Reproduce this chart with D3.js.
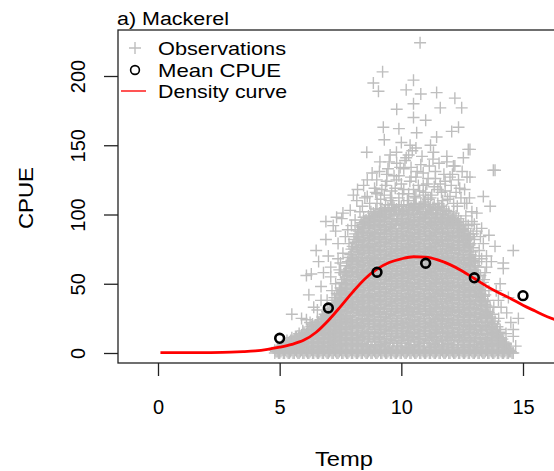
<!DOCTYPE html>
<html>
<head>
<meta charset="utf-8">
<script src="https://cdn.jsdelivr.net/npm/d3@7"></script>
<style>
  body { margin: 0; background: #fff; }
  svg { display: block; }
  text { font-family: "Liberation Sans", Arial, Helvetica, sans-serif; fill: #000; }
</style>
</head>
<body>
<div id="chart"></div>
<script>
// ---- data ----
const xTicks = [0, 5, 10, 15];
const yTicks = [0, 50, 100, 150, 200];

// mean CPUE per temperature class
const meanTemp = [5, 7, 9, 11, 13, 15];
const meanCpue = [10.6, 32.5, 58.3, 64.8, 54.3, 41.4];

// fitted density curve
const curveTemp = [0.1, 1, 2, 3, 3.5, 4, 4.5, 5, 5.5, 6, 6.5, 7, 7.5, 8, 8.5, 9, 9.5, 10, 10.5, 11, 11.5, 12, 12.5, 13, 13.5, 14, 14.5, 15, 15.5, 16, 16.5];
const curveCpue = [0.2, 0.2, 0.3, 0.6, 1.0, 1.6, 2.7, 4.2, 6.2, 9.3, 15, 23.5, 33.5, 44, 53.5, 60.5, 65.3, 68, 69.5, 69.2, 67.2, 63.8, 59.2, 53.8, 48.3, 43.5, 39.2, 34.5, 30.3, 26.2, 22.8];

// observations in the dense core, grouped by temperature: [temp, [cpue...]]
const obsColumns = [
  [4.8,[0,2]],[4.9,[1,4]],[5.0,[0,3]],[5.1,[2,5]],[5.2,[0,4,7]],[5.3,[1,6,9]],[5.4,[0,4,8]],
  [5.5,[2,7,11]],[5.6,[0,5,10]],[5.7,[1,6,12]],[5.8,[0,4,9,14]],[5.9,[2,7,13]],
  [6.0,[0,5,10,15]],[6.1,[1,8,14]],[6.2,[0,4,10,17]],[6.3,[2,7,13,19]],[6.4,[0,5,11,17]],
  [6.5,[1,8,14,20]],[6.6,[0,4,10,16,22]],[6.7,[2,7,13,19,24]],[6.8,[0,5,11,18,25]],[6.9,[1,8,14,20,27]],
  [7.0,[0,4,10,17,23,29]],[7.1,[2,8,14,21,27,32]],[7.2,[0,6,12,19,26,34]],[7.3,[1,9,16,24,31,38]],
  [7.4,[0,5,13,21,28,35,42]],[7.5,[2,10,18,26,33,40,47]],[7.6,[0,7,15,23,31,39,46,53]],
  [7.7,[1,9,17,25,34,42,50,59]],[7.8,[0,6,14,22,30,38,47,56,66]],[7.9,[2,10,19,27,36,44,53,62,71]],
  [8.0,[0,7,15,24,33,41,50,59,68,77]],[8.1,[1,9,18,27,35,44,53,62,71,80,86]],
  [8.2,[0,5,13,22,31,39,48,57,66,75,84,89]],[8.3,[2,11,20,29,37,46,55,64,73,82,91]],
  [8.4,[0,7,16,25,33,42,51,60,69,78,87,93]],[8.5,[1,10,19,28,36,45,54,63,72,81,90,95]],
  [8.6,[0,5,14,23,31,40,49,58,67,76,85,94]],[8.7,[2,12,21,30,38,47,56,65,74,83,92,97]],
  [8.8,[0,8,17,26,34,43,52,61,70,79,88,98]],[8.9,[1,10,19,28,37,46,55,64,73,82,91,99]],
  [9.0,[0,6,15,24,32,41,50,59,68,77,86,95,100]],[9.1,[2,11,20,29,38,47,56,65,74,83,92,101]],
  [9.2,[0,8,17,26,35,44,53,62,71,80,89,98,102]],[9.3,[1,5,14,23,32,41,50,59,68,77,86,95,103]],
  [9.4,[0,10,19,28,37,46,55,64,73,82,91,100]],[9.5,[2,7,16,25,34,43,52,61,70,79,88,97,104]],
  [9.6,[0,12,21,30,39,48,57,66,75,84,93,102]],[9.7,[1,9,18,27,36,45,54,63,72,81,90,99,105]],
  [9.8,[0,5,14,23,32,41,50,59,68,77,86,95,104]],[9.9,[2,11,20,29,38,47,56,65,74,83,92,101,106]],
  [10.0,[0,7,16,25,34,43,52,61,70,79,88,97,106]],[10.1,[1,12,21,30,39,48,57,66,75,84,93,102,107]],
  [10.2,[0,4,13,22,31,40,49,58,67,76,85,94,103]],[10.3,[2,9,18,27,36,45,54,63,72,81,90,99,107]],
  [10.4,[0,6,15,24,33,42,51,60,69,78,87,96,105]],[10.5,[1,11,20,29,38,47,56,65,74,83,92,101,108]],
  [10.6,[0,8,17,26,35,44,53,62,71,80,89,98,107]],[10.7,[2,5,14,23,32,41,50,59,68,77,86,95,104]],
  [10.8,[0,10,19,28,37,46,55,64,73,82,91,100,108]],[10.9,[1,7,16,25,34,43,52,61,70,79,88,97,106]],
  [11.0,[0,12,21,30,39,48,57,66,75,84,93,102,107]],[11.1,[2,9,18,27,36,45,54,63,72,81,90,99,106]],
  [11.2,[0,4,13,22,31,40,49,58,67,76,85,94,103]],[11.3,[1,11,20,29,38,47,56,65,74,83,92,101,105]],
  [11.4,[0,6,15,24,33,42,51,60,69,78,87,96,104]],[11.5,[2,8,17,26,35,44,53,62,71,80,89,98,103]],
  [11.6,[0,12,21,30,39,48,57,66,75,84,93,101]],[11.7,[1,5,14,23,32,41,50,59,68,77,86,95,100]],
  [11.8,[0,10,19,28,37,46,55,64,73,82,91,99]],[11.9,[2,7,16,25,34,43,52,61,70,79,88,97]],
  [12.0,[0,11,20,29,38,47,56,65,74,83,92,98]],[12.1,[1,4,13,22,31,40,49,58,67,76,85,94,97]],
  [12.2,[0,9,18,27,36,45,54,63,72,81,90,96]],[12.3,[2,6,15,24,33,42,51,60,69,78,87,94]],
  [12.4,[0,11,20,29,38,47,56,65,74,83,92]],[12.5,[1,8,17,26,35,44,53,62,71,80,89]],
  [12.6,[0,4,13,22,31,40,49,58,67,76,85,88]],[12.7,[2,10,19,28,37,46,55,64,73,82,86]],
  [12.8,[0,6,15,24,33,42,51,60,69,78,83]],[12.9,[1,11,20,29,38,47,56,65,73]],
  [13.0,[0,8,17,26,35,44,53,60,66]],[13.1,[2,5,14,23,32,41,50,58]],[13.2,[0,10,19,28,37,46,53]],
  [13.3,[1,7,16,25,34,42,47]],[13.4,[0,11,20,29,37,41]],[13.5,[2,8,17,26,34]],[13.6,[0,5,14,22,29]],
  [13.7,[1,10,18,25]],[13.8,[0,7,15,21]],[13.9,[2,11,17]],[14.0,[0,6,13]],[14.1,[1,9,11]],
  [14.2,[0,4,8]],[14.3,[2,6]],[14.4,[0,3]],[14.5,[1]],[14.6,[0]]
];

// more core observations, between the columns above
const obsColumnsB = [
  [4.85,[1]],[4.95,[0,3]],[5.05,[1,4]],[5.15,[0,3,6]],[5.25,[2,5]],[5.35,[0,3,7]],[5.45,[1,6,9]],
  [5.55,[0,4,9]],[5.65,[2,7,12]],[5.75,[0,4,10]],[5.85,[1,6,11]],[5.95,[0,4,10,16]],[6.05,[2,8,13]],
  [6.15,[0,5,11,17]],[6.25,[1,7,14]],[6.35,[0,4,10,16,21]],[6.45,[2,8,14,20]],[6.55,[0,5,11,17,23]],
  [6.65,[1,7,13,19]],[6.75,[0,4,10,16,22,26]],[6.85,[2,8,15,21,28]],[6.95,[0,5,11,17,24,30]],
  [7.05,[1,7,13,20,26,31]],[7.15,[0,5,11,17,24,30,36]],[7.25,[2,8,15,22,29,36,40]],
  [7.35,[0,5,12,20,27,35,43]],[7.45,[1,9,17,24,31,38,45]],[7.55,[0,6,14,22,30,37,44,51]],
  [7.65,[2,11,19,27,35,43,50,57]],[7.75,[0,5,13,21,29,38,46,55,63]],[7.85,[1,10,18,26,34,43,52,61,69]],
  [7.95,[0,6,14,23,32,40,49,58,67,75]],[8.05,[2,11,20,29,37,46,55,64,73,82]],
  [8.15,[0,5,13,22,31,40,49,58,67,76,84]],[8.25,[1,9,18,27,35,44,53,62,71,80,88]],
  [8.35,[0,6,15,24,33,42,51,60,69,78,87,94]],[8.45,[2,12,21,30,38,47,56,65,74,83,91,98]],
  [8.55,[0,5,14,23,32,41,50,59,68,77,86,96]],[8.65,[1,10,19,27,36,45,54,63,72,81,90,99]],
  [8.75,[0,6,15,24,33,42,51,60,69,78,87,95,102]],[8.85,[2,12,21,30,39,48,57,66,75,84,93,101]],
  [8.95,[0,5,14,23,32,41,50,59,68,77,86,96,104]],[9.05,[1,10,19,28,37,46,55,64,73,82,91,99]],
  [9.15,[0,6,15,24,33,42,51,60,69,78,87,96,104]],[9.25,[2,12,21,30,39,48,57,66,75,84,93,100]],
  [9.35,[0,7,17,26,35,44,53,62,71,80,89,98,107]],[9.45,[1,5,14,23,32,41,50,59,68,77,86,95,105]],
  [9.55,[0,10,19,28,37,46,55,64,73,82,91,100]],[9.65,[2,7,16,25,34,43,52,61,70,79,88,97,107]],
  [9.75,[0,12,21,30,39,48,57,66,75,84,93,103]],[9.85,[1,5,14,23,32,41,50,59,68,77,86,96]],
  [9.95,[0,9,18,27,36,45,54,63,72,81,90,100]],[10.05,[2,12,21,30,39,48,57,66,75,84,93,101]],
  [10.15,[0,7,16,25,34,43,52,61,70,79,88,97]],[10.25,[1,10,19,28,37,46,55,64,73,82,91,100]],
  [10.35,[0,5,14,23,32,41,50,59,68,77,86,95,104]],[10.45,[2,12,21,30,39,48,57,66,75,84,93,103]],
  [10.55,[0,6,15,24,33,42,51,60,69,78,87,96,106]],[10.65,[1,10,19,28,37,46,55,64,73,82,91,101]],
  [10.75,[0,5,14,23,32,41,50,59,68,77,86,96,105]],[10.85,[2,12,21,30,39,48,57,66,75,84,93,102]],
  [10.95,[0,7,16,25,34,43,52,61,70,79,88,98]],[11.05,[1,10,19,28,37,46,55,64,73,82,91,100]],
  [11.15,[0,5,14,23,32,41,50,59,68,77,86,95,104]],[11.25,[2,12,21,30,39,48,57,66,75,84,93,101]],
  [11.35,[0,7,16,25,34,43,52,61,70,79,88,97,107]],[11.45,[1,10,19,28,37,46,55,64,73,82,91,100]],
  [11.55,[0,5,14,23,32,41,50,59,68,77,86,94,105]],[11.65,[2,9,18,27,36,45,54,63,72,81,90,97,106]],
  [11.75,[0,6,15,24,33,42,51,60,69,78,87,96,104]],[11.85,[1,12,21,30,39,48,57,66,75,84,93,103]],
  [11.95,[0,5,14,23,32,41,50,59,68,77,86,95,102]],[12.05,[2,9,18,27,36,45,54,63,72,81,90,96]],
  [12.15,[0,6,15,24,33,42,51,60,69,78,87,93,101]],[12.25,[1,12,21,30,39,48,57,66,75,84,92,99]],
  [12.35,[0,4,13,22,31,40,49,58,67,76,84,90,97]],[12.45,[2,9,17,26,35,44,53,62,71,80,88,95]],
  [12.55,[0,6,15,24,33,42,51,60,69,78,86,93]],[12.65,[1,11,20,29,38,47,56,65,74,81,90]],
  [12.75,[0,5,14,23,32,41,50,59,68,77,84,92]],[12.85,[2,9,18,27,36,45,54,63,71,79,86]],
  [12.95,[0,6,15,24,33,42,51,59,67,76]],[13.05,[1,11,20,29,38,46,55,63,70]],
  [13.15,[0,4,13,22,31,40,48,56,62]],[13.25,[2,8,17,26,35,43,50,56]],[13.35,[0,6,14,22,31,39,45,51]],
  [13.45,[1,10,19,27,35,42]],[13.55,[0,5,13,22,30,38]],[13.65,[2,9,17,26,33]],[13.75,[0,6,14,21,28]],
  [13.85,[1,9,16,23]],[13.95,[0,5,12,19]],[14.05,[2,8,15]],[14.15,[0,5,10]],[14.25,[1,4,7]],
  [14.35,[0,3]],[14.45,[1,2]],[14.55,[0]]
];

// looser observations along the top and flanks of the core: [temp, cpue]
const obsFringe = [
  [8.7,108],[8.95,116],[9.15,111],[9.35,121],[9.45,133],[9.6,110],[9.75,119],[9.9,128],[10.05,115],
  [10.15,139],[10.25,110],[10.35,124],[10.45,146],[10.55,113],[10.65,131],[10.75,117],[10.85,142],
  [10.95,109],[11.05,122],[11.15,135],[11.25,114],[11.35,120],[11.5,108],[11.55,137],[11.65,116],
  [11.75,129],[11.9,111],[12.05,121],[12.15,108],[12.25,116],[12.45,112],[12.5,131],[12.65,99],
  [12.8,112],[13.0,93],[13.1,101],[13.25,84],[13.5,62],[13.3,68],[9.2,118],[9.55,112],[9.95,134],
  [10.1,118],[10.6,127],[11.1,111],[11.6,122],[12.35,125],[8.6,113],[8.3,102],[8.1,96],[7.95,92],
  [7.7,84],[7.85,79],[9.0,115],[10.3,143],[10.9,121],[11.8,117],[8.45,121],
  [7.5,58],[7.3,50],[7.15,45],[7.6,72],[7.45,60],[6.95,38],[6.55,31],[6.1,24],
  [13.2,66],[13.4,53],[13.6,45],[13.8,33],[14.0,25],[14.3,14],[12.95,86]
];

// scattered observations around the core: [temp, cpue]
const obsScattered = [
  [5.5,28],[6.3,57],[7.1,55],[6.5,74],[7.4,79],[6.7,38],[6.1,56],[7.5,65],[6.7,48],[6.9,82],[6.9,95],
  [6.6,66],[7.2,92],[7.0,70],[7.6,101],[7.3,88],[6.25,22],[5.9,25],[6.4,33],[6.2,42],[7.55,97],[7.34,98],
  [7.9,103],[8.17,110],[8.03,114],[7.8,89],[7.1,62],[6.8,58],[7.4,68],
  [8.2,118],[8.5,112],[8.6,125],[8.9,119],[9.0,108],[9.1,131],[9.3,114],[9.4,124],[9.6,117],[9.7,128],
  [9.9,112],[10.0,122],[10.1,133],[10.3,115],[10.4,127],[10.6,112],[10.7,121],[10.8,136],[11.0,116],
  [11.1,126],[11.2,112],[11.4,131],[11.5,118],[11.7,110],[11.8,124],[12.0,113],[12.1,129],[12.3,106],
  [12.4,119],[12.6,108],[12.7,127],[12.9,95],[13.0,82],[13.2,74],[13.1,88],[12.9,102],[8.4,106],
  [9.5,138],[10.2,141],[10.9,114],[11.3,140],[9.8,145],[10.5,118],[12.2,135],[8.8,130],[13.37,113],
  [12.69,108],[13.65,106],[12.6,118],[8.99,125],[9.4,129],[9.8,125],[10.4,134],[10.9,130],[11.4,126],[12.0,127],
  [10.77,224],[9.23,203],[8.85,195],[9.06,189],[10.5,197],[10.2,190],[10.8,187],[11.45,188],[12.2,184],
  [11.6,177],[12.48,177],[9.81,176],[10.5,180],[10.5,170],[9.26,163],[12.35,163],[9.3,154],[12.75,147],
  [13.85,132],[10.63,159],[11.45,156],[12.07,160],[8.58,145],[9.54,143],[10.36,150],[10.6,148],
  [11.32,145],[12.82,147],[9.12,138],[9.81,137],[11.87,138],[12.55,141],[13.78,132],[11.87,142],
  [12.14,135],[12.82,127],[9.9,162],[11.0,168],[10.0,152],[11.2,150],
  [13.37,79],[13.85,77],[14.6,74],[14.19,61],[13.44,58],[14.06,50],[13.99,38],[14.33,29],[14.81,25],
  [14.06,17],[14.6,12],[14.3,7],[14.19,65],[14.6,17],[13.7,66],[13.5,70],[13.9,45],[14.4,40],[13.3,90],
  [13.6,85],[14.1,33],[14.5,22],[14.7,5]
];

const legendLabels = ["Observations", "Mean CPUE", "Density curve"];

// ---- layout ----
const W = 554, H = 471;
const box = {left: 118, top: 30, bottom: 363, right: 580};

const svg = d3.select("#chart").append("svg")
  .attr("width", W).attr("height", H);

const x = d3.scaleLinear().domain([0, 15]).range([158, 523]);
const y = d3.scaleLinear().domain([0, 200]).range([353, 76]);

svg.append("clipPath").attr("id", "plotClip")
  .append("rect")
  .attr("x", box.left).attr("y", box.top)
  .attr("width", box.right - box.left).attr("height", box.bottom - box.top);

const plot = svg.append("g").attr("clip-path", "url(#plotClip)");

// flatten observations
const observations = [];
obsColumns.concat(obsColumnsB).forEach(([t, cs]) => cs.forEach(c => observations.push([t, c])));
obsFringe.concat(obsScattered).forEach(p => observations.push(p));

const crossPath = "M-6,0H6M0,-6V6";

plot.append("g")
  .selectAll("path")
  .data(observations)
  .join("path")
  .attr("d", crossPath)
  .attr("transform", d => `translate(${x(d[0])},${y(d[1])})`)
  .attr("fill", "none")
  .attr("stroke", "#bebebe")
  .attr("stroke-width", 1.4);

// density curve
const curveData = curveTemp.map((t, i) => ({t, c: curveCpue[i]}));
plot.append("path")
  .datum(curveData)
  .attr("fill", "none")
  .attr("stroke", "#ff0000")
  .attr("stroke-width", 2.8)
  .attr("d", d3.line().x(d => x(d.t)).y(d => y(d.c)).curve(d3.curveMonotoneX));

// mean CPUE points
plot.append("g")
  .selectAll("circle")
  .data(meanTemp.map((t, i) => ({t, c: meanCpue[i]})))
  .join("circle")
  .attr("cx", d => x(d.t))
  .attr("cy", d => y(d.c))
  .attr("r", 4.4)
  .attr("fill", "none")
  .attr("stroke", "#000")
  .attr("stroke-width", 2.6);

// box
svg.append("rect")
  .attr("x", box.left).attr("y", box.top)
  .attr("width", box.right - box.left).attr("height", box.bottom - box.top)
  .attr("fill", "none")
  .attr("stroke", "#222")
  .attr("stroke-width", 1.3);

// axes
const xAxis = svg.append("g")
  .attr("transform", `translate(0,${box.bottom})`)
  .call(d3.axisBottom(x).tickValues(xTicks).tickSize(13).tickSizeOuter(0).tickFormat(d3.format("d")));
xAxis.select(".domain").remove();
xAxis.selectAll(".tick line").attr("stroke", "#222").attr("stroke-width", 1.3);
xAxis.selectAll(".tick text")
  .attr("y", 51).attr("dy", null)
  .attr("font-size", 20).attr("font-family", null).attr("fill", "#111");

const yAxis = svg.append("g")
  .attr("transform", `translate(${box.left},0)`)
  .call(d3.axisLeft(y).tickValues(yTicks).tickSize(14).tickSizeOuter(0).tickFormat(d3.format("d")));
yAxis.select(".domain").remove();
yAxis.selectAll(".tick line").attr("stroke", "#222").attr("stroke-width", 1.3);
yAxis.selectAll(".tick text")
  .attr("x", null).attr("dy", null)
  .attr("text-anchor", "middle")
  .attr("transform", "translate(-33,0) rotate(-90)")
  .attr("font-size", 20).attr("font-family", null).attr("fill", "#111");

// axis titles (the reference face runs wider than Arial, so widths are pinned)
svg.append("text")
  .attr("x", 344).attr("y", 466)
  .attr("text-anchor", "middle")
  .attr("font-size", 20)
  .attr("textLength", 58).attr("lengthAdjust", "spacingAndGlyphs")
  .text("Temp");

svg.append("text")
  .attr("transform", "translate(33,198) rotate(-90)")
  .attr("text-anchor", "middle")
  .attr("font-size", 20)
  .attr("textLength", 62).attr("lengthAdjust", "spacingAndGlyphs")
  .text("CPUE");

// title
svg.append("text")
  .attr("x", 117).attr("y", 25)
  .attr("font-size", 18)
  .attr("textLength", 112).attr("lengthAdjust", "spacingAndGlyphs")
  .text("a) Mackerel");

// legend
const legend = svg.append("g");
const rowY = [48, 70, 91];
const legendWidths = [128, 123, 129];
legend.append("path")
  .attr("d", crossPath)
  .attr("transform", `translate(135,${rowY[0]})`)
  .attr("stroke", "#bebebe").attr("stroke-width", 1.4).attr("fill", "none");
legend.append("circle")
  .attr("cx", 135).attr("cy", rowY[1]).attr("r", 4.4)
  .attr("fill", "none").attr("stroke", "#000").attr("stroke-width", 1.6);
legend.append("line")
  .attr("x1", 121).attr("x2", 146).attr("y1", rowY[2]).attr("y2", rowY[2])
  .attr("stroke", "#ff0000").attr("stroke-width", 1.8).attr("stroke-opacity", 0.75);
legend.selectAll("text.lab")
  .data(legendLabels)
  .join("text")
  .attr("class", "lab")
  .attr("x", 158)
  .attr("y", (d, i) => rowY[i] + 7)
  .attr("font-size", 18.5)
  .attr("textLength", (d, i) => legendWidths[i]).attr("lengthAdjust", "spacingAndGlyphs")
  .text(d => d);
</script>
</body>
</html>
